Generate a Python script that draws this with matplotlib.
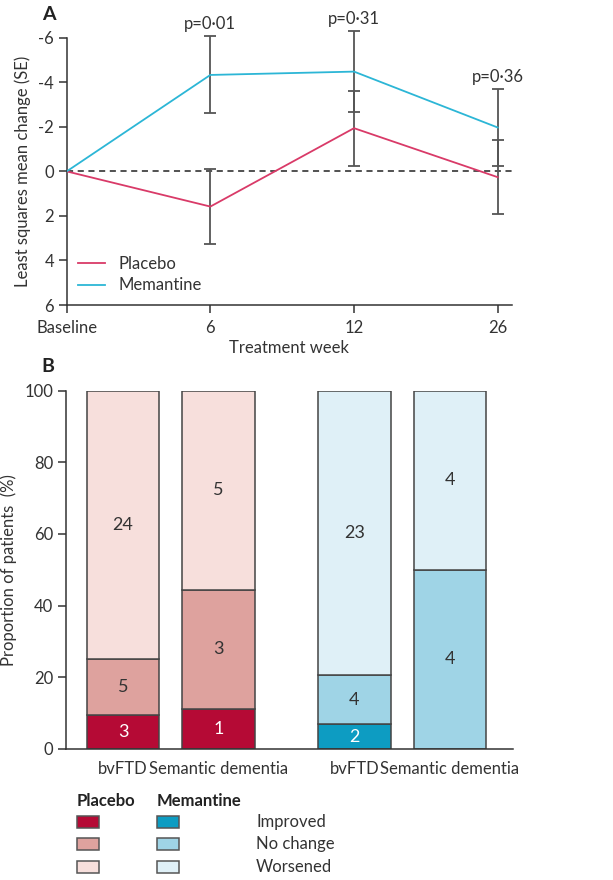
import numpy as np
import matplotlib.pyplot as plt
from matplotlib.patches import Rectangle

plt.rcParams['font.family'] = ['Lato', 'DejaVu Sans']

# panel A data
weeks = ["Baseline", "6", "12", "26"]
placebo_mean = [0, 1.58, -1.94, 0.26]
placebo_se = [0, 1.68, 1.68, 1.66]
memantine_mean = [0, -4.33, -4.48, -1.97]
memantine_se = [0, 1.73, 1.82, 1.71]
p_labels = ["", "p=0·01", "p=0·31", "p=0·36"]

# panel B data (patient counts)
groups = ["bvFTD", "Semantic dementia", "bvFTD", "Semantic dementia"]
improved = [3, 1, 2, 0]
no_change = [5, 3, 4, 4]
worsened = [24, 5, 23, 4]

placebo_col = "#d93a68"
memantine_col = "#2cb6d6"
red_shades = ["#b50a35", "#dea29e", "#f7dfdc"]
blue_shades = ["#0d9cc2", "#9fd4e6", "#dff0f7"]
edge = "#444444"
txt = "#333333"

fig = plt.figure(figsize=(6.13, 8.8), dpi=100)

# ---------- A ----------
ax = fig.add_axes([0.1088, 0.6534, 0.7265, 0.3037])
x = np.arange(len(weeks))
ax.axhline(0, color="#222222", ls=(0, (4, 3)), lw=1.1, zorder=1)
ax.plot(x, placebo_mean, color=placebo_col, lw=1.3, label="Placebo", zorder=3)
ax.plot(x, memantine_mean, color=memantine_col, lw=1.3, label="Memantine", zorder=3)
for m, se in [(placebo_mean, placebo_se), (memantine_mean, memantine_se)]:
    eb = ax.errorbar(x[1:], m[1:], yerr=se[1:], fmt="none", ecolor="#555555",
                     elinewidth=1.3, capsize=4, capthick=1.3, zorder=2)
    for art in eb.lines[1] + eb.lines[2]:
        art.set_clip_on(False)
for i, lab in enumerate(p_labels):
    if lab:
        top = min(memantine_mean[i] - memantine_se[i], placebo_mean[i] - placebo_se[i])
        ax.text(i, top - 0.2, lab, ha="center", va="bottom", fontsize=12,
                color=txt, clip_on=False)

ax.set_xlim(0, 3.1)
ax.set_ylim(6, -6)
ax.set_yticks([-6, -4, -2, 0, 2, 4, 6])
ax.set_yticklabels(["-6", "-4", "-2", "0", "2", "4", "6"])
ax.set_xticks(x)
ax.set_xticklabels(weeks)
ax.set_xlabel("Treatment week", fontsize=12, color=txt, labelpad=3)
ax.set_ylabel("Least squares mean change (SE)", fontsize=12, color=txt, labelpad=5)
for s in ["top", "right"]:
    ax.spines[s].set_visible(False)
for s in ["left", "bottom"]:
    ax.spines[s].set_color("#333333")
    ax.spines[s].set_linewidth(1.1)
ax.tick_params(axis="both", labelsize=12, colors=txt, length=6, width=1.1, pad=3)
ax.tick_params(axis="x", pad=5)
ax.legend(loc="lower left", bbox_to_anchor=(0.0, 0.0), frameon=False,
          fontsize=12, handlelength=1.6, labelcolor=txt, borderaxespad=0.3,
          labelspacing=0.35)
fig.text(0.068, 0.983, "A", fontsize=14, fontweight="bold", color="#222222",
         va="center", ha="left")

# ---------- B ----------
bx = fig.add_axes([0.107, 0.1489, 0.73, 0.4072])
pos = np.array([0, 1, 2.42, 3.42])
counts = np.array([improved, no_change, worsened], dtype=float)
totals = counts.sum(axis=0)
pct = counts / totals * 100
bottom = np.zeros(len(groups))
for k in range(3):
    cols = [red_shades[k]] * 2 + [blue_shades[k]] * 2
    bx.bar(pos, pct[k], 0.76, bottom=bottom, color=cols, edgecolor=edge,
           linewidth=1.1, zorder=2)
    for j in range(len(groups)):
        if counts[k, j] > 0:
            bx.text(pos[j], bottom[j] + pct[k, j] / 2, str(int(counts[k, j])),
                    ha="center", va="center", fontsize=13,
                    color="white" if k == 0 else txt)
    bottom += pct[k]

bx.set_xlim(-0.6, 4.08)
bx.set_ylim(0, 100)
bx.set_yticks([0, 20, 40, 60, 80, 100])
bx.set_xticks(pos)
bx.set_xticklabels(groups)
bx.set_ylabel("Proportion of patients  (%)", fontsize=12, color=txt, labelpad=5)
for s in ["top", "right"]:
    bx.spines[s].set_visible(False)
for s in ["left", "bottom"]:
    bx.spines[s].set_color("#333333")
    bx.spines[s].set_linewidth(1.1)
bx.tick_params(axis="y", labelsize=12, colors=txt, length=6, width=1.1, pad=3)
bx.tick_params(axis="x", labelsize=12, colors=txt, length=0, pad=9)
fig.text(0.068, 0.583, "B", fontsize=14, fontweight="bold", color="#222222",
         va="center", ha="left")

# ---------- legend B (overlay axes in figure pixels) ----------
lx = fig.add_axes([0, 0, 1, 1], zorder=-1)
lx.set_xlim(0, 613)
lx.set_ylim(880, 0)
lx.axis("off")
lx.text(77, 801, "Placebo", fontsize=12, fontweight="bold", color="#222222", va="center")
lx.text(157, 801, "Memantine", fontsize=12, fontweight="bold", color="#222222", va="center")
names = ["Improved", "No change", "Worsened"]
for k, name in enumerate(names):
    yy = 822 + k * 22.5
    lx.add_patch(Rectangle((77, yy - 6), 22, 12, facecolor=red_shades[k],
                           edgecolor="#555555", lw=1.1))
    lx.add_patch(Rectangle((157, yy - 6), 22, 12, facecolor=blue_shades[k],
                           edgecolor="#555555", lw=1.1))
    lx.text(256, yy, name, fontsize=12, color=txt, va="center")

fig.savefig("out.png", dpi=100)
